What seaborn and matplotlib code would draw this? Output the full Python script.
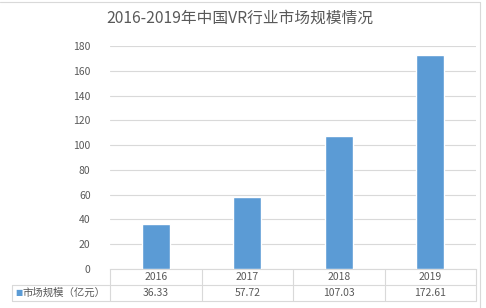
import matplotlib
matplotlib.use("Agg")
import matplotlib.pyplot as plt
import seaborn as sns
import pandas as pd
from matplotlib.lines import Line2D

years = ["2016", "2017", "2018", "2019"]
values = [36.33, 57.72, 107.03, 172.61]
value_labels = ["36.33", "57.72", "107.03", "172.61"]
yticks = [0, 20, 40, 60, 80, 100, 120, 140, 160, 180]
title = "2016-2019年中国VR行业市场规模情况"
series_name = "市场规模（亿元）"

sns.set_style("white")
plt.rcParams['font.family'] = ['Noto Sans CJK SC', 'DejaVu Sans']

W, H = 486, 308
fig = plt.figure(figsize=(W / 100, H / 100), dpi=100)
L, R, T, B = 110, 476, 46, 269
ax = fig.add_axes([L / W, 1 - B / H, (R - L) / W, (B - T) / H])

df = pd.DataFrame({"year": years, "value": values})
sns.barplot(data=df, x="year", y="value", color="#5B9BD5", width=0.31,
            saturation=1, ax=ax, zorder=3)
ax.set_xlim(-0.5, 3.5)
ax.set_ylim(0, 180)
ax.set_yticks(yticks)
ax.set_yticklabels([str(t) for t in yticks], fontsize=7.5, color="#595959")
ax.tick_params(axis="y", length=0, pad=14)
ax.set_xticks([])
ax.set_xlabel("")
ax.set_ylabel("")
ax.grid(axis="y", color="#D9D9D9", linewidth=0.8, zorder=0)
for s in ["top", "right", "left"]:
    ax.spines[s].set_visible(False)
ax.spines["bottom"].set_color("#D9D9D9")
ax.spines["bottom"].set_linewidth(0.8)

fig.text(240 / W, 1 - 18 / H, title, ha="center", va="center",
         fontsize=11.3, color="#595959")

def px(x, y):
    return x / W, 1 - y / H

lc = "#D9D9D9"
def hline(x0, x1, y):
    a, b = px(x0, y); c, d = px(x1, y)
    fig.add_artist(Line2D([a, c], [b, d], color=lc, lw=0.8))
def vline(x, y0, y1):
    a, b = px(x, y0); c, d = px(x, y1)
    fig.add_artist(Line2D([a, c], [b, d], color=lc, lw=0.8))

row1, row2, row3 = 269, 285, 301
hline(12, R, row2)
hline(12, R, row3)
vline(12, row2, row3)
colw = (R - L) / 4
for i in range(5):
    vline(L + i * colw, row1, row3)
for i, (yr, v) in enumerate(zip(years, value_labels)):
    cx = L + (i + 0.5) * colw
    fig.text(*px(cx, (row1 + row2) / 2), yr, ha="center", va="center",
             fontsize=7.5, color="#595959")
    fig.text(*px(cx, (row2 + row3) / 2), v, ha="center", va="center",
             fontsize=7.5, color="#595959")
fig.text(*px(15, (row2 + row3) / 2), "■", ha="left", va="center",
         fontsize=5.5, color="#5B9BD5", family=['DejaVu Sans'])
fig.text(*px(22, (row2 + row3) / 2), series_name, ha="left", va="center",
         fontsize=7.5, color="#595959")

# outer chart border
hline(0, 480, 2)
vline(480, 2, 308)

fig.savefig("out.png", dpi=100)
